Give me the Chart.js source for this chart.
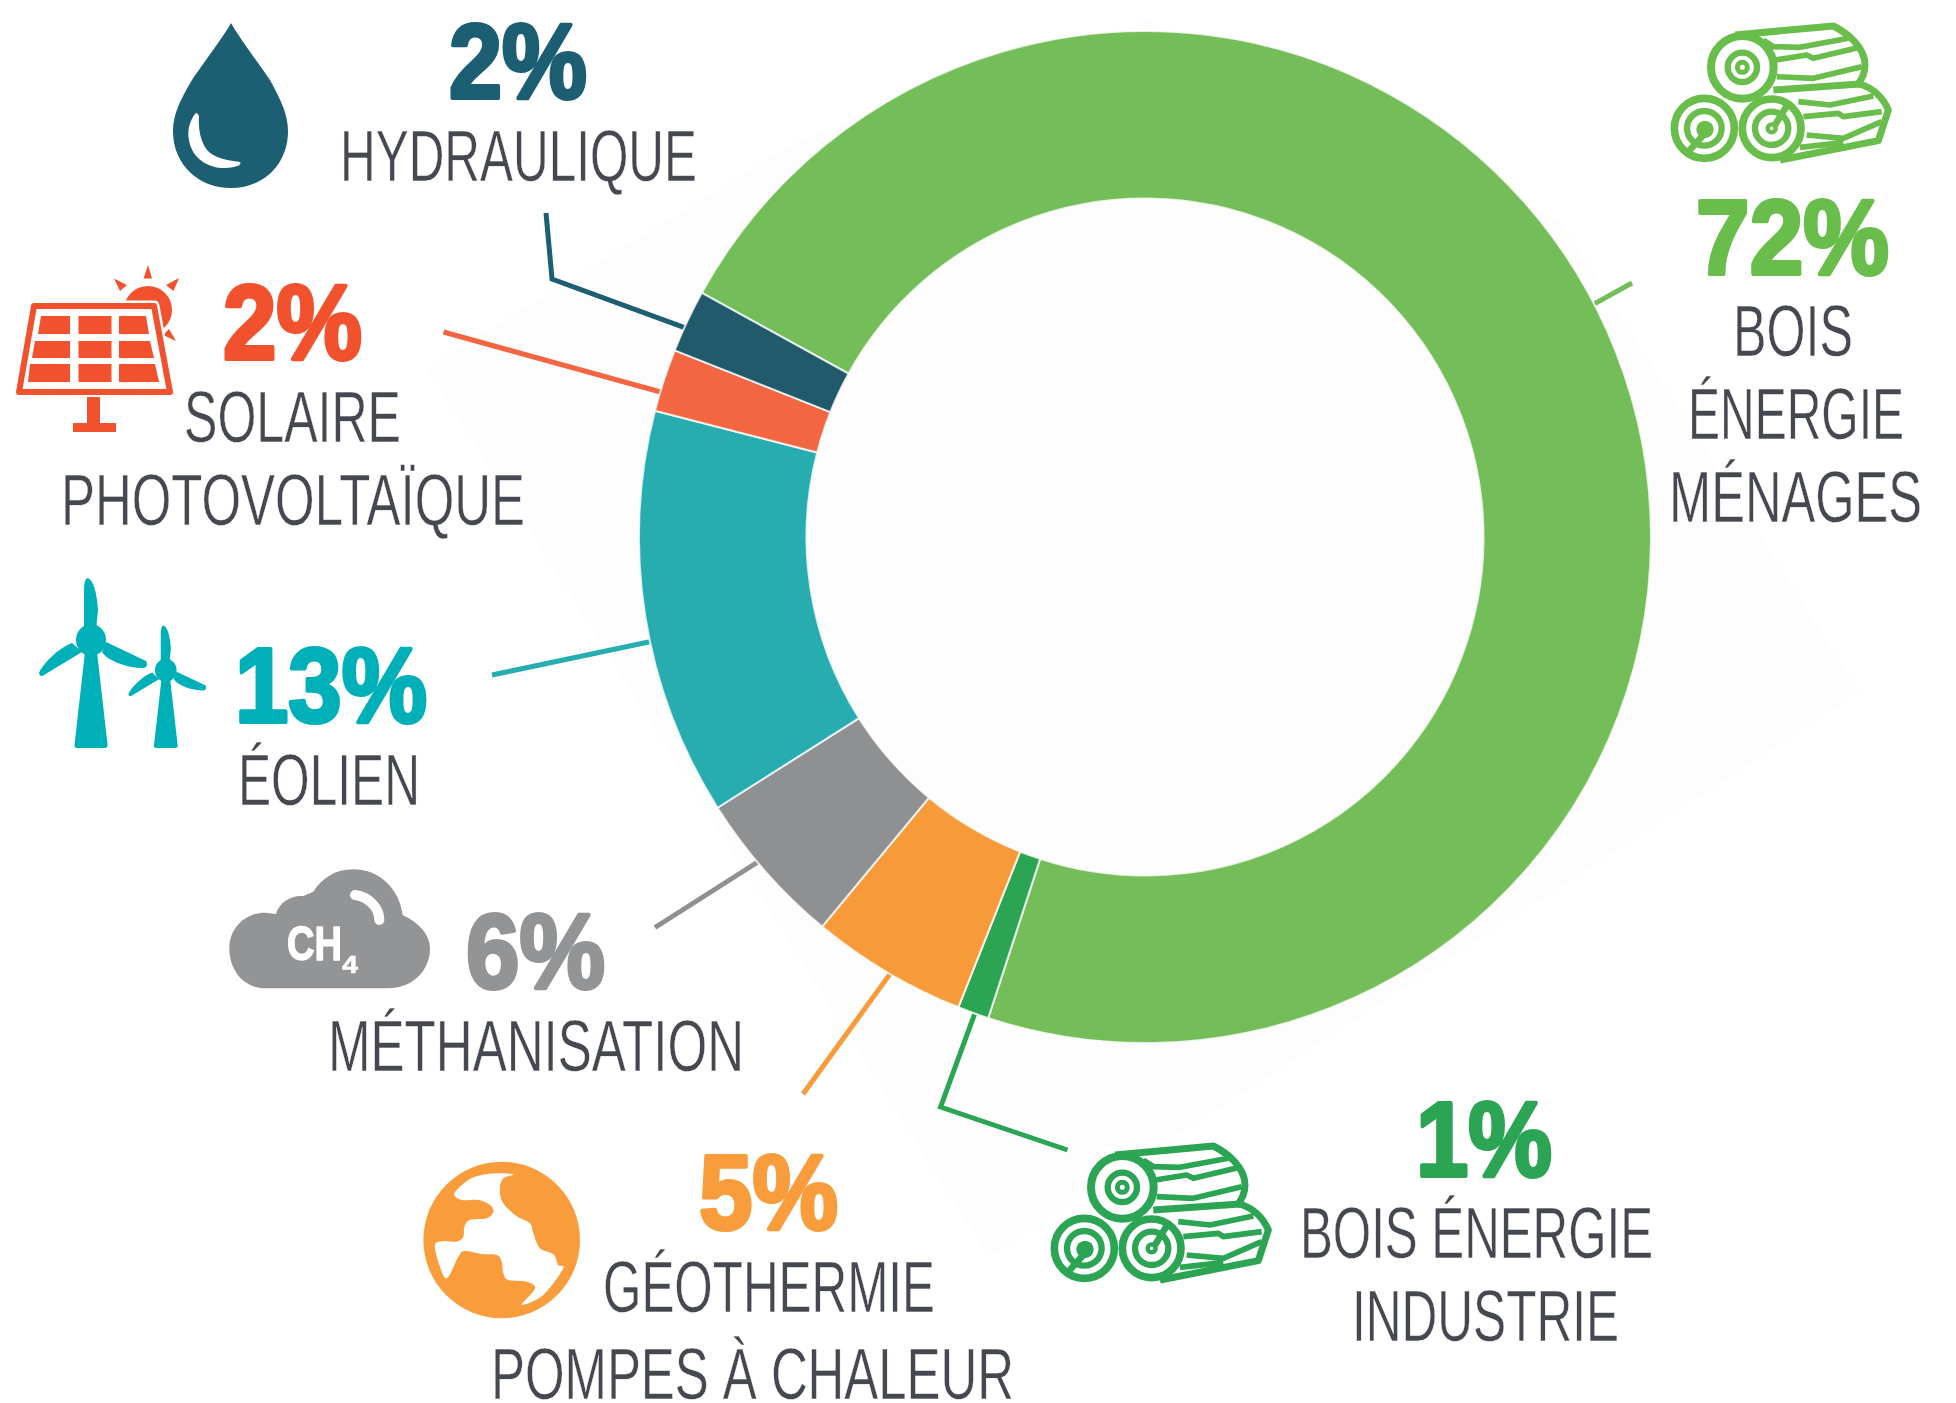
<!DOCTYPE html>
<html lang="fr">
<head>
<meta charset="utf-8">
<title>Mix énergies renouvelables</title>
<script src="https://cdn.jsdelivr.net/npm/chart.js@4"></script>
<style>
html,body{margin:0;padding:0;background:#fff;width:1956px;height:1403px;overflow:hidden}
#wrap{position:relative;width:1956px;height:1403px}
canvas{position:absolute;left:0;top:0}
svg{position:absolute;left:0;top:0}
text{font-family:"Liberation Sans",Arial,sans-serif}
</style>
</head>
<body>
<div id="wrap">
<canvas id="c" width="1956" height="1403"></canvas>
<svg id="ov" width="1956" height="1403" viewBox="0 0 1956 1403" xmlns="http://www.w3.org/2000/svg"></svg>
</div>
<script>
// ---- data ----
const categories = ["Bois énergie ménages","Bois énergie industrie","Géothermie pompes à chaleur","Méthanisation","Éolien","Solaire photovoltaïque","Hydraulique"];
const sliceShares = [72,1,5,5,13,2,2];
const printedPercents = ["72%","1%","5%","6%","13%","2%","2%"];
const sliceColors = ["#73BE58","#2BA553","#F99A3A","#8E9091","#27ADB0","#F26641","#215B6B"];
const textColors = ["#68BD4B","#2BA553","#F99C3C","#929496","#00B0B9","#F2512D","#1C5E72"];

// ---- layout of annotations (not data) ----
const leaderAnchor=[0.4774,0.445,0.475,0.57,0.436,0.31,0.396];
const leaderRest=[
 [[1632,283]],
 [[940.6,1107],[1067.5,1150]],
 [[803,1094]],
 [[655,927.5]],
 [[492,675]],
 [[443.5,332]],
 [[552,279],[546,213]]
];
const pctBoxes=[[1698,1888,274],[1418,1551,1176],[701,837,1229],[468,604,988],[237,426,722],[225,361,359],[451,586,98]];
const nameLines=[
 [["BOIS",1737,1850,356],["ÉNERGIE",1692,1901,439],["MÉNAGES",1673,1919,522]],
 [["BOIS ÉNERGIE",1304,1650,1258],["INDUSTRIE",1356,1616,1341]],
 [["GÉOTHERMIE",607,932,1312],["POMPES À CHALEUR",495,1011,1399]],
 [["MÉTHANISATION",332,741,1071]],
 [["ÉOLIEN",242,417,805]],
 [["SOLAIRE",188,398,442],["PHOTOVOLTAÏQUE",65,522,525]],
 [["HYDRAULIQUE",344,694,181]]
];

const backdrop={id:'backdrop',beforeDraw(ch){
 const g=ch.ctx;g.save();g.fillStyle='#fff';g.fillRect(0,0,1956,1403);
 g.fillStyle='#fdfdfd';g.beginPath();
 [[427,368],[800,140],[1145,20],[1560,221],[1859,692],[989,1257]].forEach((p,i)=>i?g.lineTo(p[0],p[1]):g.moveTo(p[0],p[1]));
 g.closePath();g.fill();g.restore();
}};
const leaders={id:'leaders',beforeDatasetsDraw(ch){
 const g=ch.ctx,arcs=ch.getDatasetMeta(0).data;
 arcs.forEach((a,i)=>{
  const ang=a.startAngle+(a.endAngle-a.startAngle)*leaderAnchor[i],r=a.outerRadius-6;
  g.save();g.strokeStyle=sliceColors[i]==="#215B6B"?"#1C5E72":sliceColors[i];g.lineWidth=5;g.lineJoin='miter';
  g.beginPath();g.moveTo(a.x+Math.cos(ang)*r,a.y+Math.sin(ang)*r);
  leaderRest[i].forEach(p=>g.lineTo(p[0],p[1]));g.stroke();g.restore();
 });
}};

new Chart(document.getElementById('c'),{
 type:'doughnut',
 data:{labels:categories,datasets:[{data:sliceShares,backgroundColor:sliceColors,borderColor:'rgba(255,255,255,0.8)',borderWidth:2,radius:506,cutout:'66.9%'}]},
 options:{responsive:false,animation:false,rotation:-61.15,
  layout:{padding:{left:334,right:0,top:0,bottom:329}},
  plugins:{legend:{display:false},tooltip:{enabled:false}}},
 plugins:[backdrop,leaders]
});

// ---- overlay: text and icons ----
function txt(s,x0,x1,base,size,weight,fill,stroke,strokeCol){
 return `<text x="${x0}" y="${base}" font-size="${size}" font-weight="${weight}" fill="${fill}"${stroke?` stroke="${strokeCol||fill}" stroke-width="${stroke}" stroke-linejoin="round"`:''} textLength="${x1-x0}" lengthAdjust="spacingAndGlyphs">${s}</text>`;
}
function spline(p){
 const n=p.length;let d=`M${p[0][0]} ${p[0][1]} `;
 for(let i=0;i<n;i++){
  const a=p[(i-1+n)%n],b=p[i],c=p[(i+1)%n],e=p[(i+2)%n];
  d+=`C${b[0]+(c[0]-a[0])/6} ${b[1]+(c[1]-a[1])/6} ${c[0]-(e[0]-b[0])/6} ${c[1]-(e[1]-b[1])/6} ${c[0]} ${c[1]} `;
 }
 return d+'Z';
}
let svg='';
printedPercents.forEach((s,i)=>{const b=pctBoxes[i];svg+=txt(s,b[0]-2,b[1]+1,b[2],105,'700',textColors[i],4);});
nameLines.forEach(ls=>ls.forEach(l=>{svg+=txt(l[0],l[1]-4,l[2]+3,l[3],72.7,'400','#46484F',0.5,'#fff');}));

// drop
svg+=`<path fill="#1C5E72" d="M231 23C226 33 200 68 192 80C180 100 173 115 173 131C173 165 199 188 231 188C263 188 288 165 288 131C288 115 281 100 270 80C262 68 236 33 231 23Z"/>`;
svg+=`<path fill="#fff" d="M195 114C189 122 187 132 189 140C191 155 204 167 222 168C232 168 243 166 240 162C226 160 214 158 207 150C201 142 198 130 199 116Q197 111 195 114Z"/>`;

// solar panel
const so="#F2512D";
svg+=`<circle cx="148" cy="310" r="24" fill="${so}"/>`;
svg+=`<path fill="${so}" d="M148 265L143.5 278.5L152 278.5Z M114 278.5L127 285L120 291Z M179 278L166 285L173.5 291Z M176 341L163 335L169 329Z"/>`;
const panel="M34 306L154 306L170 392L19 392Z";
svg+=`<path d="${panel}" fill="#fff" stroke="#fff" stroke-width="11" stroke-linejoin="round"/>`;
svg+=`<path d="${panel}" fill="#fff" stroke="${so}" stroke-width="6" stroke-linejoin="round"/>`;
svg+=`<path fill="${so}" d="M41 316L70 316L70 334L38 334Z M78.5 316L111.5 316L111.5 334L78.5 334Z M119 316L146 316L149 334L119 334Z M35 341L70 341L70 358L32 358Z M78.5 341L111.5 341L111.5 358L78.5 358Z M119 341L150 341L154 358L119 358Z M30 364L70 364L70 382L28 382Z M78.5 364L111.5 364L111.5 382L78.5 382Z M119 364L155 364L159 382L119 382Z M87 397L100 397L100 423L116 423L116 432L73 432L73 423L87 423Z"/>`;

// wind turbines
const tu="#00B0B9";
const turbine=`<path d="M85 652L74.5 745Q74.5 748 77 748L105 748Q107.6 748 107.6 745L97 652Z"/><ellipse cx="91" cy="640" rx="15" ry="16"/><path d="M84 630L84 590Q84 578 88 578Q96 582 98 610L96 630Z"/><path d="M72 643C58 648 42 665 39 673Q40 678 44 675L82 652Z"/><path d="M106 642L146 661Q149 666 144 668C125 668 107 660 102 652Z"/>`;
svg+=`<g fill="${tu}">${turbine}</g><g fill="${tu}" transform="translate(165.8 748) scale(.72) translate(-91 -748)">${turbine}</g>`;

// cloud
svg+=`<g transform="translate(220 860) scale(.33333)"><path fill="#929496" d="M135 385C75 385 28 335 28 265C28 205 75 158 135 158L168 162C178 125 215 105 250 108L280 95C305 55 345 28 400 28C480 28 540 90 548 165C600 190 630 225 630 265C630 335 575 385 505 385Z"/><path fill="none" stroke="#fff" stroke-width="30" stroke-linecap="round" d="M405 105C440 108 478 140 478 180"/></g>`;
svg+=txt("CH",287,342,959.5,49,'700','#fff',1.5)+txt("4",342,358,973,23,'700','#fff',.5);

// globe
const ge="#F99C3C";
svg+=`<circle cx="501.7" cy="1240" r="78.3" fill="${ge}"/>`;
svg+=`<path transform="translate(415 1155) scale(.33333)" fill="#fff" d="${spline([[295,58],[245,55],[200,60],[160,75],[118,115],[140,135],[190,135],[225,150],[235,170],[215,190],[165,195],[148,215],[145,245],[125,260],[85,258],[60,270],[70,320],[95,370],[130,305],[150,288],[200,297],[245,300],[260,320],[265,355],[280,375],[335,380],[360,395],[350,415],[320,450],[385,420],[445,340],[430,330],[415,298],[375,280],[355,235],[345,205],[300,180],[262,140],[255,100],[265,70]])}"/>`;

// logs (drawn in 3x local units)
function logs(){
 const ring=(x,y,r,w,f)=>`<circle cx="${x}" cy="${y}" r="${r}" stroke-width="${w}" fill="${f||'none'}"/>`;
 return `<path d="M225 75L520 48C560 68 615 110 615 165C615 190 605 210 590 228"/>`+
 `<path stroke-width="17" d="M310 90L340 110L420 112L565 85 M345 150L440 135L460 145L600 112 M350 200L460 205L605 170"/>`+
 ring(247,172,94,24,'#fff')+ring(247,172,44,19)+ring(247,172,15,15)+
 `<path d="M340 240L600 222C640 235 670 265 685 300L655 392L360 450"/>`+
 `<path stroke-width="17" d="M415 275L510 285L640 258 M430 320L535 310L550 320L665 305 M440 375L550 385L665 335 M420 412L550 398"/>`+
 ring(133,355,90,23,'#fff')+ring(133,355,52,19)+`<circle cx="135" cy="358" r="26" fill="currentColor" stroke="none"/>`+
 `<path stroke-width="20" stroke="currentColor" d="M85 425L130 375"/>`+
 ring(335,355,88,23,'#fff')+ring(335,355,50,19)+ring(335,355,12,13)+
 `<path stroke-width="20" d="M345 345L385 280"/>`;
}
svg+=`<g fill="none" stroke="currentColor" stroke-width="21" stroke-linejoin="round" style="color:#68BD4B" transform="translate(1660 10) scale(.33333)">${logs()}</g>`;
svg+=`<g fill="none" stroke="currentColor" stroke-width="21" stroke-linejoin="round" style="color:#2BA553" transform="translate(1040 1130) scale(.33333)">${logs()}</g>`;
document.getElementById('ov').innerHTML=svg;
</script>
</body>
</html>
